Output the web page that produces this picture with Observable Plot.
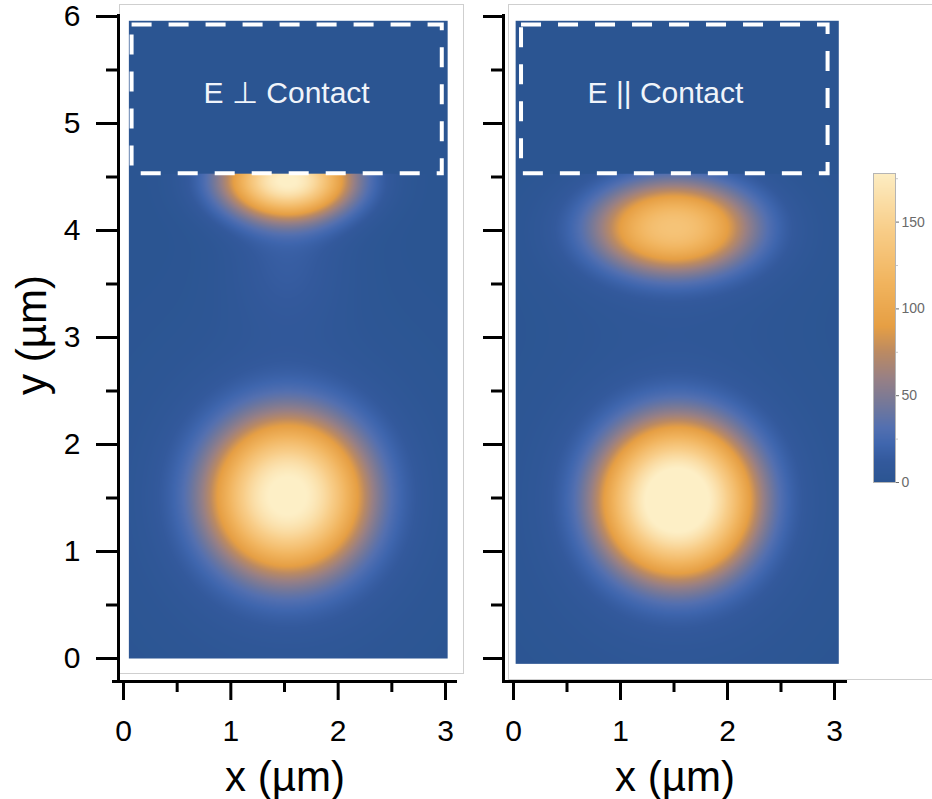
<!DOCTYPE html>
<html>
<head>
<meta charset="utf-8">
<script src="https://cdn.jsdelivr.net/npm/d3@7"></script>
<script src="https://cdn.jsdelivr.net/npm/@observablehq/plot@0.6"></script>
<style>
  html, body { margin: 0; padding: 0; background: white; }
  #wrap { position: relative; width: 932px; height: 799px; overflow: hidden; background: white; }
  #wrap svg { position: absolute; overflow: visible; }
</style>
</head>
<body>
<div id="wrap"></div>
<script>
// ---- panel titles and contact (dashed) regions, µm ----
const panelTitles = ["E ⊥ Contact", "E || Contact"];
const titleX = [1.52, 1.42];
const titleY = [5.28, 5.28];
const contactX1 = [0.08, 0.075];
const contactX2 = [2.97, 2.94];
const contactY1 = [4.53, 4.53];
const contactY2 = [5.92, 5.92];

// ---- extent of each simulated field map, µm ----
const heatX1 = [0.05, 0.02];
const heatX2 = [3.02, 3.04];
const heatY1 = [0.0, -0.05];
const heatY2 = [5.96, 5.96];

// ---- intensity spots (panel, centre, peak, half-value radii, shape) ----
const spotPanel = [0,    0,    0,    0,    1,    1,    1,    1];
const spotX     = [1.53, 1.53, 1.53, 1.53, 1.50, 1.50, 1.53, 1.53];
const spotY     = [4.47, 3.75, 1.52, 1.50, 4.03, 3.95, 1.48, 1.45];
const spotPeak  = [178,  14,   168,  18,   118,  15,   180,  18];
const spotHX    = [0.50, 0.45, 0.62, 1.00, 0.62, 0.90, 0.63, 1.00];
const spotHY    = [0.30, 0.55, 0.62, 1.10, 0.36, 0.55, 0.63, 1.10];
const spotQ     = [2.2,  2.0,  2.4,  2.0,  2.4,  2.0,  2.6,  2.0];

// ---- ticks ----
const xTicks = [0, 1, 2, 3];
const xMinor = [0.5, 1.5, 2.5];
const yTicks = [0, 1, 2, 3, 4, 5, 6];
const yMinor = [0.5, 1.5, 2.5, 3.5, 4.5, 5.5];
const colorTicks = [0, 50, 100, 150];
const colorMinor = [25, 75, 125, 175];
const colorMax = 178;

// ---- colour map ----
const colorStops = [0, 12, 22, 32, 45, 60, 75, 90, 115, 145, 180];
const colorRange = ["#2b5592", "#33599c", "#3f66ae", "#5470b0", "#74789a", "#988085",
                    "#bb8a63", "#e69f44", "#f1b45e", "#f8cd88", "#fdefc6"];

const colorScale = {type: "linear", domain: colorStops, range: colorRange, interpolate: "rgb", clamp: true};
const font = "'Liberation Sans', Arial, Helvetica, sans-serif";

function field(p, x, y) {
  if (y > contactY1[p]) return 0;
  let v = 0;
  for (let i = 0; i < spotPanel.length; i++) {
    if (spotPanel[i] !== p) continue;
    const u = Math.hypot((x - spotX[i]) / spotHX[i], (y - spotY[i]) / spotHY[i]);
    v += spotPeak[i] * Math.exp(-Math.LN2 * Math.pow(u, spotQ[i]));
  }
  return v;
}

function panel(p, cfg) {
  const marks = [
    Plot.frame({fill: "white", stroke: "#cfcfcf", strokeWidth: 1,
                insetLeft: cfg.boxL, insetRight: cfg.boxR, insetTop: -10, insetBottom: cfg.boxB}),
    Plot.raster({fill: (x, y) => field(p, x, y), x1: heatX1[p], x2: heatX2[p], y1: heatY1[p], y2: heatY2[p], pixelSize: 1}),
    Plot.rect([p], {x1: d => contactX1[d], x2: d => contactX2[d], y1: d => contactY1[d], y2: d => contactY2[d],
                    fill: "none", stroke: "white", strokeWidth: 4, strokeDasharray: "20,17"}),
    Plot.text([p], {x: d => titleX[d], y: d => titleY[d], text: d => panelTitles[d],
                    fill: "#f0f4fa", fontSize: 30, fontFamily: font}),
    Plot.ruleY([0], {dy: 23, stroke: "black", strokeWidth: 3}),
    Plot.ruleX([0], {dx: cfg.yLineDx, stroke: "black", strokeWidth: 3}),
    Plot.axisX({ticks: xTicks, tickSize: 19, tickPadding: 19, fontSize: 30, strokeWidth: 3, tickFormat: "d", label: null, color: "black"}),
    Plot.axisX({ticks: xMinor, tickSize: 11, strokeWidth: 3, tickFormat: () => "", label: null, color: "black"}),
    Plot.axisY({ticks: yTicks, tickSize: cfg.ySize, tickPadding: 16, dx: cfg.yAxisDx, fontSize: 30, strokeWidth: 3,
                tickFormat: p === 0 ? "d" : () => "", label: null, color: "black"}),
    Plot.axisY({ticks: yMinor, tickSize: 12, dx: cfg.yAxisDx, strokeWidth: 3, tickFormat: () => "", label: null, color: "black"}),
    Plot.text(["x (µm)"], {frameAnchor: "bottom", lineAnchor: "middle", dy: 96, fontSize: 42, fill: "black", fontFamily: font})
  ];
  if (p === 0) {
    marks.push(Plot.text(["y (µm)"], {frameAnchor: "left", textAnchor: "middle", lineAnchor: "middle", rotate: -90,
                                       dx: -80, dy: -13, fontSize: 42, fill: "black", fontFamily: font}));
  }
  return Plot.plot({
    width: cfg.width, height: 799,
    marginLeft: cfg.mL, marginRight: cfg.mR, marginTop: 14, marginBottom: 118,
    style: {fontFamily: font, background: "none", overflow: "visible"},
    x: {domain: [0, 3], insetLeft: cfg.iL, insetRight: cfg.iR, label: null},
    y: {domain: [0, 6], insetTop: 2, insetBottom: 23, label: null},
    color: colorScale,
    marks
  });
}

const wrap = document.getElementById("wrap");

const left = panel(0, {width: 470, mL: 112, mR: 13, iL: 11, iR: 12, boxL: 7, boxR: -6, boxB: 8, yLineDx: -5, yAxisDx: 6, ySize: 22});
left.style.left = "0px"; left.style.top = "0px";
wrap.appendChild(left);

const right = panel(1, {width: 462, mL: 32, mR: 85, iL: 11, iR: 13, boxL: 6, boxR: -90, boxB: 2, yLineDx: -10, yAxisDx: 1, ySize: 20});
right.style.left = "470px"; right.style.top = "0px";
wrap.appendChild(right);

const bar = Plot.plot({
  width: 72, height: 340,
  marginLeft: 13, marginRight: 37, marginTop: 13, marginBottom: 18,
  style: {fontFamily: font, background: "none", overflow: "visible"},
  x: {domain: [0, 1], axis: null},
  y: {domain: [0, colorMax], label: null},
  color: colorScale,
  marks: [
    Plot.raster({fill: (x, y) => y, x1: 0, x2: 1, y1: 0, y2: colorMax, pixelSize: 1}),
    Plot.frame({stroke: "#b5b5b5", strokeWidth: 1}),
    Plot.axisY({anchor: "right", ticks: colorTicks, tickSize: 3, tickPadding: 3, fontSize: 14, color: "#6a6a6a", label: null}),
    Plot.axisY({anchor: "right", ticks: colorMinor, tickSize: 2, tickFormat: () => "", color: "#c8c8c8", label: null})
  ]
});
bar.style.left = "860px"; bar.style.top = "160px";
wrap.appendChild(bar);
</script>
</body>
</html>
